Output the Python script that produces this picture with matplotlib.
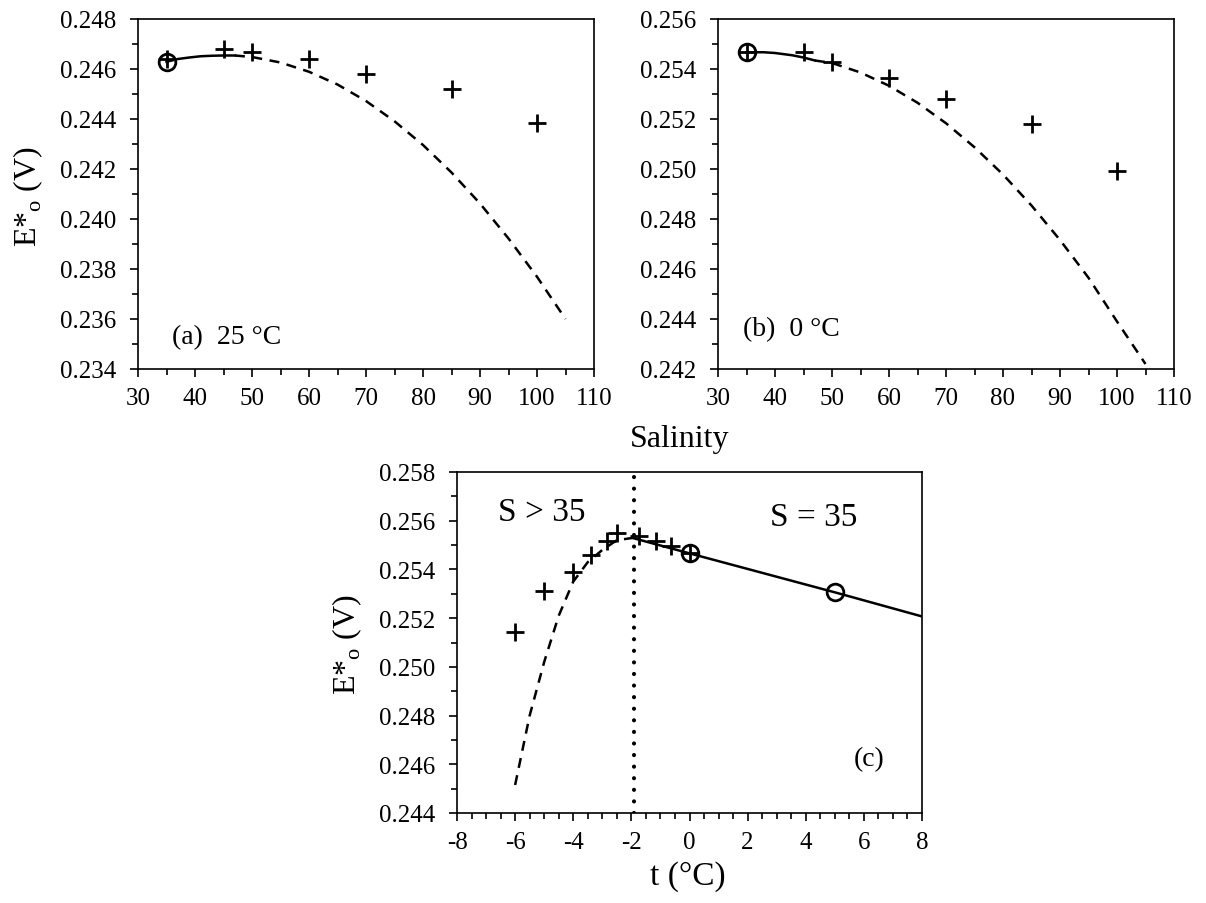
import matplotlib
matplotlib.use("Agg")
import matplotlib.pyplot as plt
from matplotlib.ticker import MultipleLocator, FormatStrFormatter

plt.rcParams['font.family'] = ['Liberation Serif', 'DejaVu Serif']
plt.rcParams['mathtext.fontset'] = 'custom'
plt.rcParams['mathtext.rm'] = 'Liberation Serif'
plt.rcParams['axes.unicode_minus'] = False

# ---- panel (a): 25 degC, E*o vs salinity
a_pts_S = [35, 45, 50, 60, 70, 85, 100]
a_pts_E = [0.24640, 0.24680, 0.24667, 0.24640, 0.24580, 0.24520, 0.24383]
a_circ_S = [35]
a_circ_E = [0.24629]
a_solid_S = [35, 37, 39, 41, 43, 45, 47]
a_solid_E = [0.24629, 0.24640, 0.24646, 0.24651, 0.24653, 0.24654, 0.24654]
a_dash_S = [47, 50, 55, 60, 65, 70, 75, 80, 85, 90, 95, 100, 105]
a_dash_E = [0.24654, 0.24648, 0.24626, 0.24589, 0.24538, 0.24472, 0.24391,
            0.24296, 0.24186, 0.24062, 0.23922, 0.23769, 0.23600]

# ---- panel (b): 0 degC
b_pts_S = [35, 45, 50, 60, 70, 85, 100]
b_pts_E = [0.25470, 0.25467, 0.25429, 0.25364, 0.25280, 0.25179, 0.24992]
b_circ_S = [35]
b_circ_E = [0.25467]
b_solid_S = [35, 38, 40, 43, 45, 47]
b_solid_E = [0.25467, 0.25467, 0.25464, 0.25455, 0.25446, 0.25434]
b_dash_S = [47, 50, 55, 60, 65, 70, 75, 80, 85, 90, 95, 100, 105]
b_dash_E = [0.25434, 0.25424, 0.25386, 0.25333, 0.25265, 0.25183, 0.25087,
            0.24978, 0.24854, 0.24716, 0.24565, 0.24390, 0.24220]

# ---- panel (c): E*o vs temperature
freeze_t = -1.92
c_pts_t = [-6, -5, -4, -3.4, -2.85, -2.5, -1.75, -1.15, -0.65, 0]
c_pts_E = [0.25144, 0.25310, 0.25388, 0.25459, 0.25515, 0.25550,
           0.25536, 0.25518, 0.25495, 0.25466]
c_circ_t = [0, 5]
c_circ_E = [0.25466, 0.25306]
c_solid_t = [-1.92, 0, 5, 8]
c_solid_E = [0.25528, 0.25466, 0.25306, 0.25207]
c_dash_t = [-6, -5.5, -5, -4.5, -4, -3.5, -3, -2.5, -1.92]
c_dash_E = [0.24515, 0.24800, 0.25020, 0.25210, 0.25350, 0.25430,
            0.25480, 0.25520, 0.25530]

W, H = 1206, 904
fig = plt.figure(figsize=(W / 100, H / 100), dpi=100)
ax_a = fig.add_axes([138 / W, 1 - 370 / H, 456 / W, 350 / H])
ax_b = fig.add_axes([718 / W, 1 - 370 / H, 456 / W, 350 / H])
ax_c = fig.add_axes([457 / W, 1 - 814 / H, 465 / W, 341 / H])

ylab = 'E*$_\\mathregular{o}$ (V)'


def style(ax, xlim, ylim, xmaj, xmin):
    ax.set_xlim(*xlim)
    ax.set_ylim(*ylim)
    ax.xaxis.set_major_locator(MultipleLocator(xmaj))
    ax.xaxis.set_minor_locator(MultipleLocator(xmin))
    ax.yaxis.set_major_locator(MultipleLocator(0.002))
    ax.yaxis.set_minor_locator(MultipleLocator(0.001))
    ax.yaxis.set_major_formatter(FormatStrFormatter('%.3f'))
    ax.xaxis.set_major_formatter(FormatStrFormatter('%d'))
    ax.tick_params(axis='both', which='major', direction='out', length=6,
                   width=1.2, labelsize=18)
    ax.tick_params(axis='both', which='minor', direction='out', length=4.5,
                   width=1.2)
    ax.tick_params(axis='y', which='major', pad=10)
    ax.tick_params(axis='x', which='major', pad=7)
    for sp in ax.spines.values():
        sp.set_linewidth(1.2)
        sp.set_color('black')


def draw_salinity(ax, ps, pe, cs, ce, ss, se, ds, de):
    ax.plot(ss, se, color='black', lw=1.8)
    ax.plot(ds, de, color='black', lw=1.8, dashes=(4, 3))
    ax.plot(ps, pe, '+', color='black', ms=13, mew=2, ls='none')
    ax.plot(cs, ce, 'o', mfc='none', mec='black', ms=12, mew=2, ls='none')


style(ax_a, (30, 110), (0.234, 0.248), 10, 5)
draw_salinity(ax_a, a_pts_S, a_pts_E, a_circ_S, a_circ_E,
              a_solid_S, a_solid_E, a_dash_S, a_dash_E)
ax_a.text(36, 0.2353, '(a)  25 °C', fontsize=20, ha='left', va='center')

style(ax_b, (30, 110), (0.242, 0.256), 10, 5)
draw_salinity(ax_b, b_pts_S, b_pts_E, b_circ_S, b_circ_E,
              b_solid_S, b_solid_E, b_dash_S, b_dash_E)
ax_b.text(34.3, 0.2436, '(b)  0 °C', fontsize=20, ha='left', va='center')

style(ax_c, (-8, 8), (0.244, 0.258), 2, 0.5)
ax_c.axvline(freeze_t, color='black', lw=3, dashes=(0.01, 2.77),
             dash_capstyle='round')
ax_c.plot(c_solid_t, c_solid_E, color='black', lw=1.8)
ax_c.plot(c_dash_t, c_dash_E, color='black', lw=1.8, dashes=(4, 3))
ax_c.plot(c_pts_t, c_pts_E, '+', color='black', ms=13, mew=2, ls='none')
ax_c.plot(c_circ_t, c_circ_E, 'o', mfc='none', mec='black', ms=12, mew=2,
          ls='none')
ax_c.text(-6.6, 0.25636, 'S > 35', fontsize=24, ha='left', va='center')
ax_c.text(2.76, 0.25615, 'S = 35', fontsize=24, ha='left', va='center')
ax_c.text(5.66, 0.24622, '(c)', fontsize=20, ha='left', va='center')

fig.text(28 / W, 1 - 197 / H, ylab, fontsize=23, rotation=90,
         ha='center', va='center')
fig.text(347 / W, 1 - 645 / H, ylab, fontsize=23, rotation=90,
         ha='center', va='center')
fig.text(680 / W, 1 - 440 / H, 'Salinity', fontsize=23,
         ha='center', va='center')
fig.text(688 / W, 1 - 877 / H, 't (°C)', fontsize=24,
         ha='center', va='center')

fig.savefig('out.png', dpi=100)
